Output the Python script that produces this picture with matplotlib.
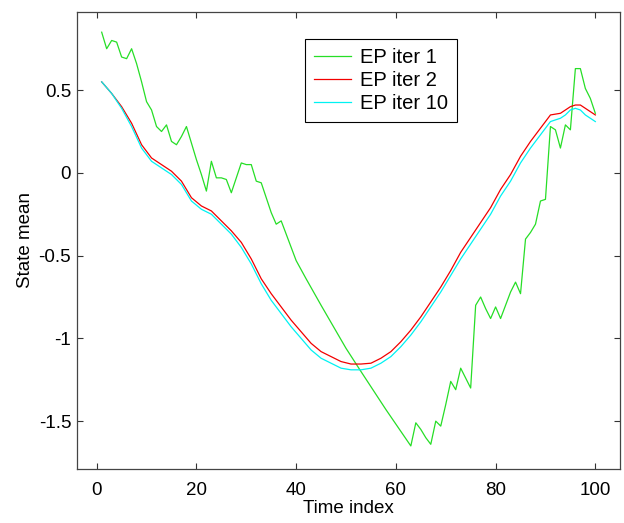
import matplotlib
matplotlib.use("Agg")
import matplotlib.pyplot as plt

plt.rcParams['font.family'] = ['Liberation Sans', 'DejaVu Sans']
plt.rcParams['font.size'] = 13.5

# EP iter 1 (vertices)
t_iter1 = [1, 2, 3, 4, 5, 6, 7, 8, 9, 10, 11, 12, 13, 14, 15, 16, 17, 18, 19, 20,
           21, 22, 23, 24, 25, 26, 27, 28, 29, 30, 31, 32, 33, 34, 35, 36, 37, 38, 39, 40,
           42, 45, 50, 53, 58, 63, 64, 65, 66, 67, 68, 69, 70, 71, 72, 73, 74, 75, 76, 77,
           78, 79, 80, 81, 82, 83, 84, 85, 86, 87, 88, 89, 90, 91, 92, 93, 94, 95, 96, 97,
           98, 99, 100]
ep_iter1 = [0.85, 0.75, 0.80, 0.79, 0.70, 0.69, 0.75, 0.66, 0.55, 0.43, 0.38, 0.28, 0.25, 0.29,
            0.19, 0.17, 0.22, 0.28, 0.18, 0.08, -0.01, -0.11, 0.07, -0.03, -0.03, -0.04, -0.12,
            -0.03, 0.06, 0.05, 0.05, -0.05, -0.06, -0.15, -0.24, -0.31, -0.29, -0.37, -0.45,
            -0.53, -0.64, -0.80, -1.06, -1.20, -1.43, -1.65, -1.51, -1.55, -1.60, -1.64, -1.50,
            -1.53, -1.40, -1.26, -1.31, -1.18, -1.24, -1.30, -0.80, -0.75, -0.82, -0.88, -0.81,
            -0.88, -0.80, -0.72, -0.66, -0.73, -0.40, -0.36, -0.31, -0.17, -0.16, 0.28, 0.26,
            0.15, 0.29, 0.26, 0.63, 0.63, 0.51, 0.45, 0.36]

# EP iter 2 and EP iter 10
t_smooth = [1, 3, 5, 7, 9, 11, 13, 15, 17, 19, 21, 23, 25, 27, 29, 31, 33, 35, 37, 39,
            41, 43, 45, 47, 49, 51, 53, 55, 57, 59, 61, 63, 65, 67, 69, 71, 73, 75, 77, 79,
            81, 83, 85, 87, 89, 90, 91, 92, 93, 94, 95, 96, 97, 98, 99, 100]
ep_iter2 = [0.55, 0.48, 0.40, 0.30, 0.17, 0.09, 0.05, 0.01, -0.05, -0.15, -0.20, -0.23, -0.29,
            -0.35, -0.42, -0.52, -0.64, -0.73, -0.81, -0.89, -0.96, -1.03, -1.08, -1.11, -1.14,
            -1.155, -1.155, -1.15, -1.12, -1.08, -1.02, -0.95, -0.87, -0.78, -0.69, -0.59,
            -0.48, -0.39, -0.30, -0.21, -0.10, -0.01, 0.10, 0.19, 0.27, 0.31, 0.35, 0.355,
            0.36, 0.38, 0.40, 0.41, 0.41, 0.39, 0.37, 0.35]
ep_iter10 = [0.55, 0.48, 0.39, 0.28, 0.15, 0.07, 0.03, -0.01, -0.07, -0.17, -0.22, -0.25, -0.31,
             -0.37, -0.45, -0.55, -0.67, -0.77, -0.85, -0.93, -1.00, -1.07, -1.12, -1.15, -1.18,
             -1.19, -1.19, -1.18, -1.15, -1.11, -1.05, -0.98, -0.90, -0.81, -0.72, -0.62,
             -0.52, -0.43, -0.34, -0.25, -0.14, -0.05, 0.06, 0.15, 0.23, 0.27, 0.31, 0.32,
             0.33, 0.35, 0.38, 0.39, 0.38, 0.35, 0.33, 0.31]

fig = plt.figure(figsize=(6.24, 5.23), dpi=100)
ax = fig.add_axes([0.123, 0.103, 0.871, 0.875])

ax.plot(t_iter1, ep_iter1, color=(0.15, 0.87, 0.15), lw=0.9, label='EP iter 1')
ax.plot(t_smooth, ep_iter2, color=(0.95, 0, 0), lw=0.9, label='EP iter 2')
ax.plot(t_smooth, ep_iter10, color=(0, 0.95, 0.95), lw=0.9, label='EP iter 10')

ax.set_xlim(-4, 105)
ax.set_ylim(-1.79, 0.975)
ax.set_xticks([0, 20, 40, 60, 80, 100])
ax.set_yticks([-1.5, -1, -0.5, 0, 0.5])
ax.set_yticklabels(['-1.5', '-1', '-0.5', '0', '0.5'])
ax.tick_params(direction='in', length=4.3, width=0.8, top=True, right=True,
               color='#333333')
ax.tick_params(axis='x', pad=9)
ax.tick_params(axis='y', pad=4)
for s in ax.spines.values():
    s.set_color('#444444')
    s.set_linewidth(0.9)

ax.set_xlabel('Time index', labelpad=1)
ax.set_ylabel('State mean', labelpad=3)

leg = ax.legend(loc='upper left', bbox_to_anchor=(0.420, 0.940), borderaxespad=0,
                fancybox=False, edgecolor='black', framealpha=1, fontsize=14.5,
                handlelength=1.85, handletextpad=0.45, labelspacing=0.2,
                borderpad=0.45)
leg.get_frame().set_linewidth(0.8)

fig.savefig('out.png', dpi=100)
